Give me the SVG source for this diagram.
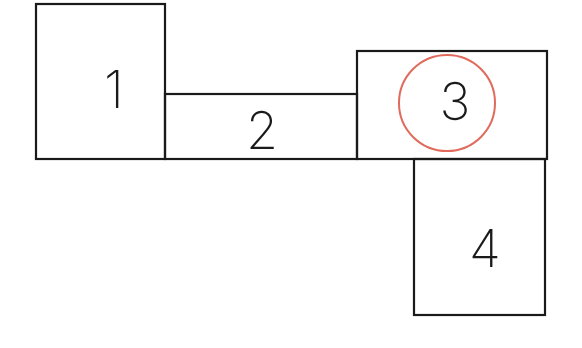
<svg xmlns="http://www.w3.org/2000/svg" width="582" height="348" viewBox="0 0 582 348">
<style>
.box{fill:none;stroke:#1a1a1a;stroke-width:2.2}
.lbl{font-family:Inter,Roboto,"Liberation Sans",sans-serif;font-weight:200;font-size:52px;fill:#1a1a1a;text-anchor:middle;dominant-baseline:central}
</style>
<rect width="582" height="348" fill="#fff"/>
<g id="node1"><rect class="box" x="36" y="4" width="129" height="155"/><text class="lbl" x="114" y="89">1</text></g>
<g id="node2"><rect class="box" x="165" y="94" width="192" height="65"/><text class="lbl" x="262" y="130">2</text></g>
<g id="node3"><rect class="box" x="357" y="51" width="190" height="108"/><circle cx="447" cy="103" r="48" fill="none" stroke="#e06a5c" stroke-width="2"/><text class="lbl" x="455" y="101">3</text></g>
<g id="node4"><rect class="box" x="414" y="159" width="131" height="156"/><text class="lbl" x="485" y="248">4</text></g>
<g id="connectors"></g>
</svg>
